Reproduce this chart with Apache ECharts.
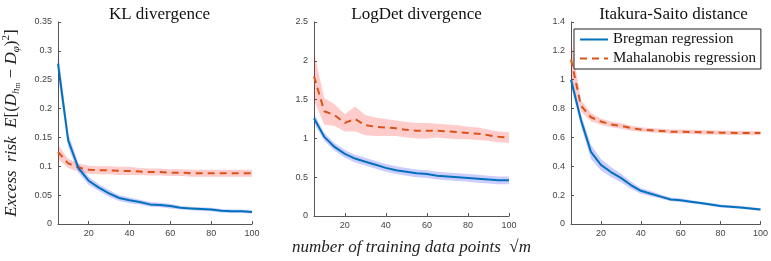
<!DOCTYPE html>
<html>
<head>
<meta charset="utf-8">
<script src="https://cdn.jsdelivr.net/npm/echarts@6/dist/echarts.min.js"></script>
<style>
  html, body { margin: 0; padding: 0; background: #fff; }
  #chart { width: 771px; height: 261px; }
</style>
</head>
<body>
<div id="chart"></div>
<script>
// sample sizes (sqrt m)
const xValues = [5, 10, 15, 20, 25, 30, 35, 40, 45, 50, 55, 60, 65, 70, 75, 80, 85, 90, 95, 100];
const xTicks = [20, 40, 60, 80, 100];

// KL divergence
const klBregman = [0.278, 0.145, 0.097, 0.075, 0.063, 0.053, 0.045, 0.041, 0.038, 0.034, 0.033, 0.031, 0.028, 0.027, 0.026, 0.025, 0.023, 0.022, 0.022, 0.021];
const klBregmanSpread = [0.022, 0.012, 0.008, 0.007, 0.006, 0.006, 0.005, 0.005, 0.004, 0.004, 0.004, 0.004, 0.003, 0.003, 0.003, 0.003, 0.003, 0.003, 0.003, 0.003];
const klMahal = [0.125, 0.105, 0.098, 0.094, 0.093, 0.093, 0.092, 0.092, 0.091, 0.090, 0.090, 0.089, 0.089, 0.088, 0.088, 0.088, 0.088, 0.088, 0.088, 0.088];
const klMahalSpread = [0.012, 0.008, 0.007, 0.007, 0.007, 0.007, 0.007, 0.007, 0.006, 0.006, 0.006, 0.006, 0.006, 0.006, 0.006, 0.006, 0.006, 0.006, 0.006, 0.006];

// LogDet divergence
const ldBregman = [1.26, 1.02, 0.89, 0.80, 0.74, 0.70, 0.66, 0.62, 0.59, 0.57, 0.55, 0.54, 0.52, 0.51, 0.50, 0.49, 0.48, 0.47, 0.46, 0.46];
const ldBregmanSpread = [0.06, 0.05, 0.05, 0.05, 0.05, 0.05, 0.05, 0.05, 0.05, 0.05, 0.05, 0.05, 0.05, 0.05, 0.05, 0.05, 0.05, 0.05, 0.05, 0.05];
const ldMahal = [1.80, 1.35, 1.30, 1.20, 1.25, 1.17, 1.15, 1.14, 1.13, 1.11, 1.10, 1.10, 1.10, 1.09, 1.08, 1.07, 1.06, 1.04, 1.02, 1.01];
const ldMahalSpread = [0.31, 0.17, 0.14, 0.11, 0.16, 0.13, 0.12, 0.11, 0.10, 0.10, 0.10, 0.10, 0.09, 0.09, 0.09, 0.08, 0.08, 0.07, 0.07, 0.07];

// Itakura-Saito distance
const isBregman = [1.00, 0.72, 0.50, 0.41, 0.36, 0.32, 0.27, 0.23, 0.21, 0.19, 0.17, 0.165, 0.155, 0.145, 0.135, 0.125, 0.12, 0.115, 0.108, 0.10];
const isBregmanSpread = [0.04, 0.04, 0.05, 0.04, 0.035, 0.03, 0.025, 0.02, 0.018, 0.015, 0.013, 0.012, 0.011, 0.01, 0.01, 0.01, 0.01, 0.01, 0.01, 0.01];
const isMahal = [1.14, 0.82, 0.74, 0.71, 0.69, 0.68, 0.665, 0.655, 0.65, 0.645, 0.64, 0.64, 0.638, 0.636, 0.635, 0.633, 0.632, 0.631, 0.63, 0.63];
const isMahalSpread = [0.13, 0.04, 0.03, 0.022, 0.02, 0.02, 0.018, 0.016, 0.015, 0.015, 0.015, 0.015, 0.015, 0.015, 0.015, 0.015, 0.015, 0.015, 0.015, 0.015];

const titles = ['KL divergence', 'LogDet divergence', 'Itakura-Saito distance'];
const yMax = [0.35, 2.5, 1.4];
const yStep = [0.05, 0.5, 0.2];

const blue = '#0072BD';
const red = '#D95319';
const serif = '"Liberation Serif", "Times New Roman", serif';
const sans = '"Liberation Sans", Arial, sans-serif';

const panels = [
  { b: klBregman, bs: klBregmanSpread, m: klMahal, ms: klMahalSpread },
  { b: ldBregman, bs: ldBregmanSpread, m: ldMahal, ms: ldMahalSpread },
  { b: isBregman, bs: isBregmanSpread, m: isMahal, ms: isMahalSpread }
];
const gridLeft = [57, 314, 571];

const pairs = (ys) => xValues.map((x, i) => [x, ys[i]]);

const grids = [], xAxes = [], yAxes = [], series = [];

// shaded band drawn as one polygon: upper edge left->right, lower edge right->left
function bandSeries(k, ys, sp, color) {
  return {
    type: 'custom', xAxisIndex: k, yAxisIndex: k, silent: true, z: 1, clip: true,
    data: xValues.map((x, i) => [x, ys[i] - sp[i], ys[i] + sp[i]]),
    encode: { x: 0, y: [1, 2] },
    renderItem: (params, api) => {
      if (params.dataIndex !== 0) return null;
      const pts = [];
      for (let i = 0; i < xValues.length; i++) pts.push(api.coord([xValues[i], ys[i] + sp[i]]));
      for (let i = xValues.length - 1; i >= 0; i--) pts.push(api.coord([xValues[i], ys[i] - sp[i]]));
      return { type: 'polygon', shape: { points: pts }, style: { fill: color } };
    }
  };
}

panels.forEach((p, k) => {
  grids.push({ left: gridLeft[k], top: 22, width: 195, height: 202 });
  xAxes.push({
    type: 'value', gridIndex: k, min: 5, max: 100,
    axisLine: { lineStyle: { color: '#555', width: 1 } },
    axisTick: { inside: true, length: 3, customValues: xTicks, lineStyle: { color: '#555' } },
    axisLabel: { customValues: xTicks, color: '#444', fontSize: 9, fontFamily: sans, margin: 5 },
    splitLine: { show: false },
    name: k === 1 ? 'number of training data points  √m' : '',
    nameLocation: 'middle', nameGap: 23,
    nameTextStyle: { fontFamily: serif, fontStyle: 'italic', fontSize: 17, color: '#222' }
  });
  yAxes.push({
    type: 'value', gridIndex: k, min: 0, max: yMax[k], interval: yStep[k],
    axisLine: { show: true, lineStyle: { color: '#555', width: 1 } },
    axisTick: { show: true, inside: true, length: 3, lineStyle: { color: '#555' } },
    axisLabel: { color: '#444', fontSize: 9, fontFamily: sans, margin: 6 },
    splitLine: { show: false },
    name: k === 0 ? '{it|Excess  risk  E}{n|[(}{it|D}{sub|h}{ss|m}{n| − }{it|D}{sub|φ}{n|)}{sup|2}{n|]}' : '',
    nameLocation: 'middle', nameRotate: 90, nameGap: 36,
    nameTextStyle: {
      color: '#222',
      rich: {
        it: { fontFamily: serif, fontStyle: 'italic', fontSize: 17, lineHeight: 21, color: '#222' },
        n: { fontFamily: serif, fontSize: 17, lineHeight: 21, color: '#222' },
        sub: { fontFamily: serif, fontStyle: 'italic', fontSize: 11, lineHeight: 11, verticalAlign: 'bottom', color: '#222' },
        ss: { fontFamily: serif, fontStyle: 'italic', fontSize: 8, lineHeight: 6, verticalAlign: 'bottom', color: '#222' },
        sup: { fontFamily: serif, fontSize: 11, lineHeight: 10, verticalAlign: 'top', color: '#222' }
      }
    }
  });

  series.push(bandSeries(k, p.m, p.ms, 'rgba(255,0,0,0.2)'));
  series.push(bandSeries(k, p.b, p.bs, 'rgba(0,0,255,0.2)'));
  series.push({
    name: 'Mahalanobis regression', type: 'line', xAxisIndex: k, yAxisIndex: k,
    data: pairs(p.m), symbol: 'none', z: 3,
    lineStyle: { color: red, width: 2, type: [7, 5] }, itemStyle: { color: red }
  });
  series.push({
    name: 'Bregman regression', type: 'line', xAxisIndex: k, yAxisIndex: k,
    data: pairs(p.b), symbol: 'none', z: 4,
    lineStyle: { color: blue, width: 2 }, itemStyle: { color: blue }
  });
});

const chart = echarts.init(document.getElementById('chart'), null, { renderer: 'canvas' });
chart.setOption({
  animation: false,
  backgroundColor: '#fff',
  title: titles.map((t, k) => ({
    text: t, left: gridLeft[k] + 97.5, top: 1, textAlign: 'center',
    textStyle: { fontFamily: serif, fontWeight: 'normal', fontSize: 17, color: '#111' }
  })),
  legend: {
    data: ['Bregman regression', 'Mahalanobis regression'],
    orient: 'vertical', left: 574, top: 29,
    padding: [3, 5, 3, 5], itemGap: 4, itemWidth: 28, itemHeight: 14,
    backgroundColor: '#fff', borderColor: '#222', borderWidth: 1, borderRadius: 0,
    itemStyle: { opacity: 0 },
    textStyle: { fontFamily: serif, fontSize: 15, color: '#111' }
  },
  grid: grids, xAxis: xAxes, yAxis: yAxes, series: series
});
</script>
</body>
</html>
